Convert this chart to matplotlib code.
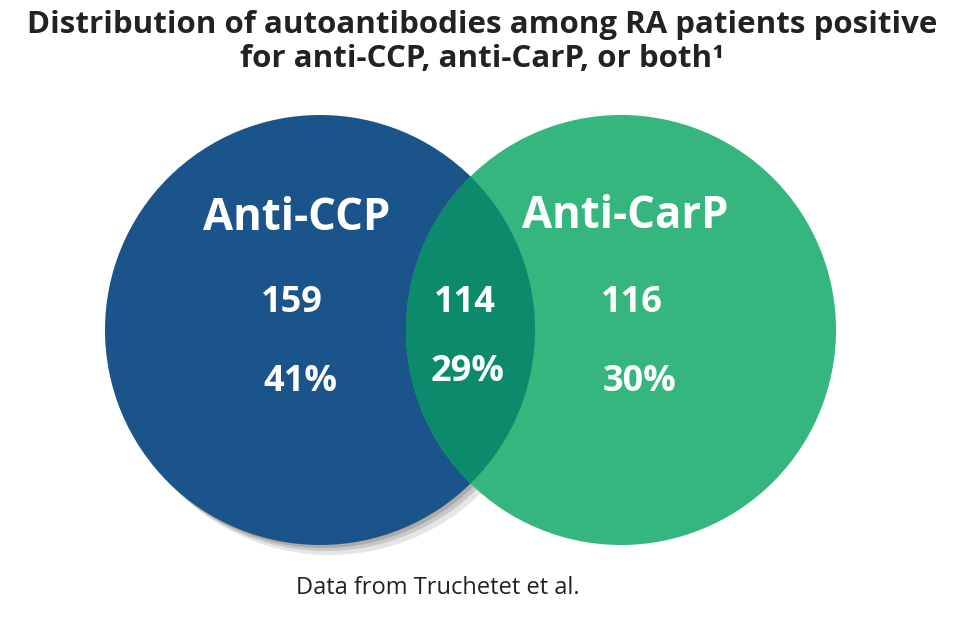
import matplotlib.pyplot as plt
from matplotlib.patches import Circle

# venn data
set_names = ["Anti-CCP", "Anti-CarP"]
only_counts = [159, 116]
only_pcts = ["41%", "30%"]
both_count = 114
both_pct = "29%"
title = "Distribution of autoantibodies among RA patients positive\nfor anti-CCP, anti-CarP, or both¹"
source = "Data from Truchetet et al."

fig = plt.figure(figsize=(9.65, 6.27), dpi=100)
ax = fig.add_axes([0, 0, 1, 1])
ax.set_xlim(0, 965)
ax.set_ylim(627, 0)
ax.axis('off')

r = 215
c_left = (320, 330)
c_right = (621, 330)

# soft shadow under the left circle
for off, a in [(10, 0.15), (6, 0.2), (3, 0.25)]:
    ax.add_patch(Circle((c_left[0] + off, c_left[1] + off), r, color='#555555', alpha=a, lw=0))
left = Circle(c_left, r, color='#1b548a', lw=0)
ax.add_patch(left)
ax.add_patch(Circle(c_right, r, color='#35b67f', lw=0))
# overlap region
ov = Circle(c_right, r, color='#0b8b6c', lw=0)
ax.add_patch(ov)
ov.set_clip_path(left)

fam = ['Open Sans', 'DejaVu Sans']
ax.text(482, 42, title, ha='center', va='center', fontsize=22.5, fontweight='bold',
        family=fam, color='#222222', linespacing=1.2)

ax.text(297, 218, set_names[0], ha='center', va='center', fontsize=31.5, fontweight='bold', family=fam, color='white')
ax.text(625, 216, set_names[1], ha='center', va='center', fontsize=31.5, fontweight='bold', family=fam, color='white')

xs = [292, 632]
for x, n, p in zip(xs, only_counts, only_pcts):
    ax.text(x, 303, str(n), ha='center', va='center', fontsize=26, fontweight='bold', family=fam, color='white')
    ax.text(x + 8, 382, p, ha='center', va='center', fontsize=26, fontweight='bold', family=fam, color='white')
ax.text(465, 303, str(both_count), ha='center', va='center', fontsize=26, fontweight='bold', family=fam, color='white')
ax.text(468, 372, both_pct, ha='center', va='center', fontsize=26, fontweight='bold', family=fam, color='white')

ax.text(438, 588, source, ha='center', va='center', fontsize=17, family=fam, color='#222222')

fig.savefig('out.png', dpi=100)
